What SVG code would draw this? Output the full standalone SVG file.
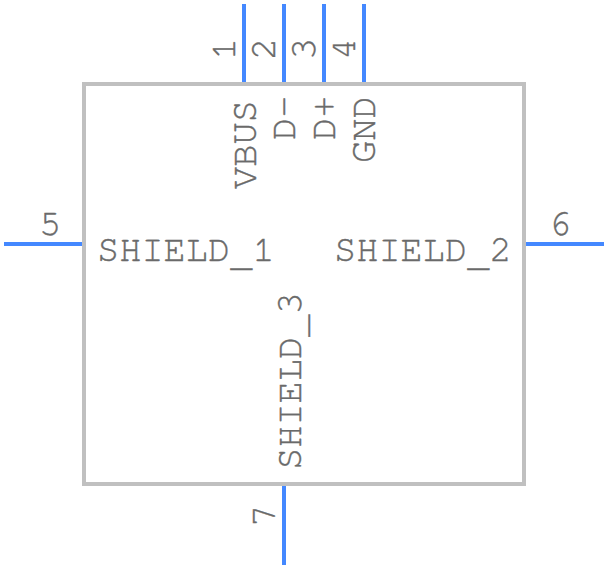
<svg xmlns="http://www.w3.org/2000/svg" width="608" height="568" viewBox="0 0 608 568">
<style>
.pin{stroke:#4488ff;stroke-width:4;fill:none}
.body{stroke:#c0c0c0;stroke-width:4;fill:none}
text{font-family:"FreeMono","Liberation Mono",monospace;font-size:37px;fill:#6a6a6a;stroke:#6a6a6a;stroke-width:.35}
</style>
<rect width="608" height="568" fill="#fff"/>
<g id="body"><rect class="body" x="84" y="84" width="440" height="400"/></g>
<g id="connectors">
<path class="pin" d="M244 4V82M284 4V82M324 4V82M364 4V82M4 244H82M604 244H526M284 565V486"/>
</g>
<g id="pin1"><text transform="translate(235 60) rotate(-90)">1</text><text transform="translate(256 189) rotate(-90)">VBUS</text></g>
<g id="pin2"><text transform="translate(275 60) rotate(-90)">2</text><text transform="translate(295 140) rotate(-90)">D-</text></g>
<g id="pin3"><text transform="translate(315 60) rotate(-90)">3</text><text transform="translate(335 140) rotate(-90)">D+</text></g>
<g id="pin4"><text transform="translate(355 60) rotate(-90)">4</text><text transform="translate(375 163) rotate(-90)">GND</text></g>
<g id="pin5"><text x="39" y="235">5</text><text x="97" y="261">SHIELD<tspan dy="5">_</tspan><tspan dy="-5">1</tspan></text></g>
<g id="pin6"><text x="549" y="235">6</text><text x="334" y="261">SHIELD<tspan dy="5">_</tspan><tspan dy="-5">2</tspan></text></g>
<g id="pin7"><text transform="translate(275 527) rotate(-90)">7</text><text transform="translate(301 470) rotate(-90)">SHIELD<tspan dy="5">_</tspan><tspan dy="-5">3</tspan></text></g>
</svg>
